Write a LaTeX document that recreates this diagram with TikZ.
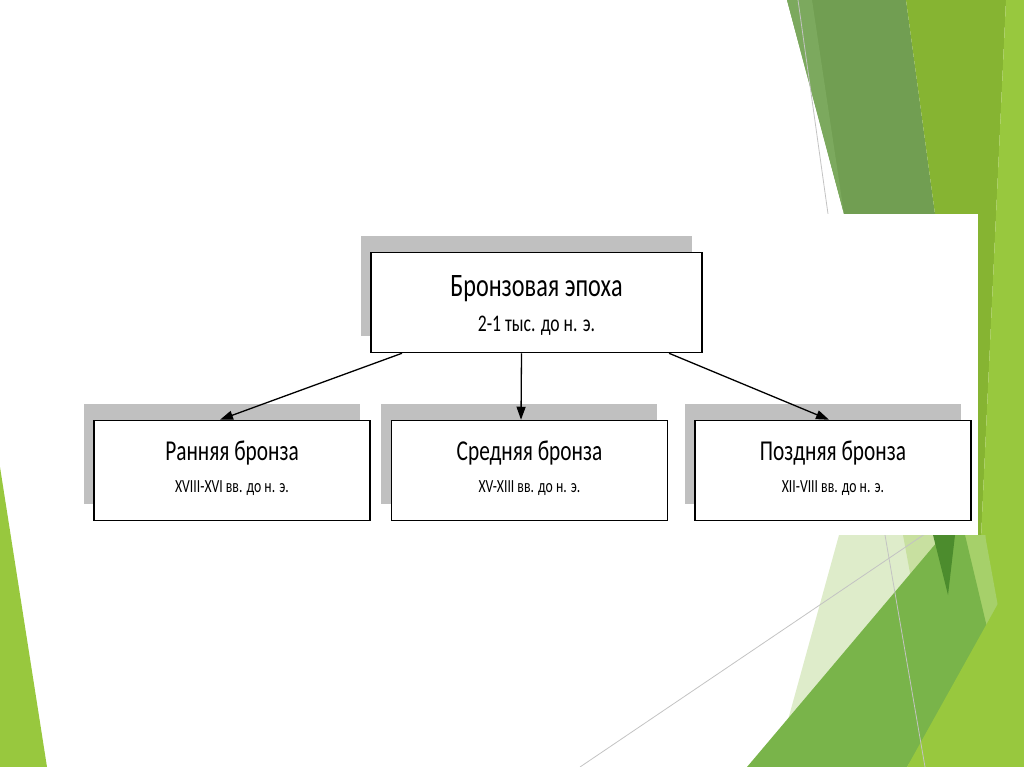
\documentclass[tikz,border=0pt]{standalone}
\usepackage{fontspec}
\setmainfont{Carlito}[FakeStretch=0.74]
\usetikzlibrary{arrows.meta,positioning,shadows}
\definecolor{SlideMoss}{RGB}{113,158,82}
\definecolor{SlideMossLight}{RGB}{124,169,94}
\definecolor{SlideLeaf}{RGB}{134,180,50}
\definecolor{SlideLime}{RGB}{152,200,62}
\definecolor{SlidePale}{RGB}{222,236,202}
\definecolor{SlidePaleMid}{RGB}{200,224,160}
\definecolor{SlideGrass}{RGB}{121,180,74}
\definecolor{SlideDeep}{RGB}{76,140,45}
\definecolor{SlideSoft}{RGB}{166,208,106}
\definecolor{SlideRule}{RGB}{195,195,195}
\definecolor{BoxShadow}{RGB}{192,192,192}

\begin{document}
\begin{tikzpicture}[x=1pt,y=-1pt,
    box/.style={draw=black,line width=1.5pt,fill=white,minimum width=276pt,minimum height=100pt,inner sep=0pt,
      general shadow={fill=BoxShadow,shadow xshift=-10.5pt,shadow yshift=17pt}},
    era/.style={anchor=base,inner sep=0pt,font=\fontsize{32.7}{33}\selectfont},
    erasub/.style={anchor=base,inner sep=0pt,font=\fontsize{23.8}{24}\selectfont},
    stage/.style={anchor=base,inner sep=0pt,font=\fontsize{28.8}{29}\selectfont},
    stagesub/.style={anchor=base,inner sep=0pt,font=\fontsize{18.5}{19}\selectfont},
    arr/.style={-{Triangle[length=13pt,width=9pt]},line width=1.3pt}
  ]
    \useasboundingbox (0,0) rectangle (1024,767);
    % slide background
    \fill[SlideLime] (0,467) -- (47,767) -- (0,767) -- cycle;
    \fill[SlideMoss] (787,0) -- (906,0) -- (935,214) -- (844,214) -- cycle;
    \fill[SlideMossLight] (787,0) -- (812,0) -- (844,214) -- cycle;
    \fill[SlideLeaf] (906,0) -- (1006,0) -- (980,560) -- (935,214) -- cycle;
    \fill[SlideLime] (1006,0) -- (1024,0) -- (1024,767) -- (975,767) -- (980,560) -- cycle;
    \fill[SlidePale] (839,535) -- (985,535) -- (985,767) -- (775,767) -- cycle;
    \fill[SlidePaleMid] (903,535) -- (933,535) -- (940,560) -- (915,600) -- cycle;
    \fill[SlideSoft] (955,535) -- (985,535) -- (1015,700) -- (1000,767) -- (960,767) -- cycle;
    \fill[SlideGrass] (943,535) -- (965,535) -- (990,640) -- (907,767) -- (747,767) -- cycle;
    \fill[SlideDeep] (933,535) -- (955,535) -- (948,595) -- cycle;
    \fill[SlideLime] (907,767) -- (1024,557) -- (1024,767) -- cycle;
    \draw[SlideRule,line width=0.8pt] (798,0) -- (828,214);
    \draw[SlideRule,line width=0.8pt] (580,767) -- (950,517);
    \draw[SlideRule,line width=0.8pt] (885,535) -- (925,767);
    % picture area
    \fill[white] (60,214) rectangle (978,535);

    \node[box,minimum width=331pt] (bronze) at (536.5,302.5) {};
    \node[box,below=66.5pt of bronze,xshift=-7pt] (middle) {};
    \node[box,left=20pt of middle] (early) {};
    \node[box,right=26pt of middle] (late) {};

    \node[era] (bronze-name) at ([yshift=6.5pt]bronze.center) {Бронзовая эпоха};
    \node[erasub] (bronze-date) at ([yshift=-29.2pt]bronze.center) {2-1 тыс. до н. э.};
    \foreach \s/\name/\date in {early/Ранняя бронза/XVIII-XVI вв. до н. э.,
                               middle/Средняя бронза/XV-XIII вв. до н. э.,
                               late/Поздняя бронза/XII-VIII вв. до н. э.}{
      \node[stage] (\s-name) at ([yshift=10.5pt]\s.center) {\name};
      \node[stagesub] (\s-date) at ([yshift=-22.2pt]\s.center) {\date};
    }

    \draw[arr] ([xshift=-134.5pt]bronze.south) -- ([xshift=-12pt]early.north);
    \draw[arr] ([xshift=-15pt]bronze.south) -- ([xshift=-8.5pt]middle.north);
    \draw[arr] ([xshift=132.5pt]bronze.south) -- ([xshift=-4pt]late.north);
\end{tikzpicture}
\end{document}
